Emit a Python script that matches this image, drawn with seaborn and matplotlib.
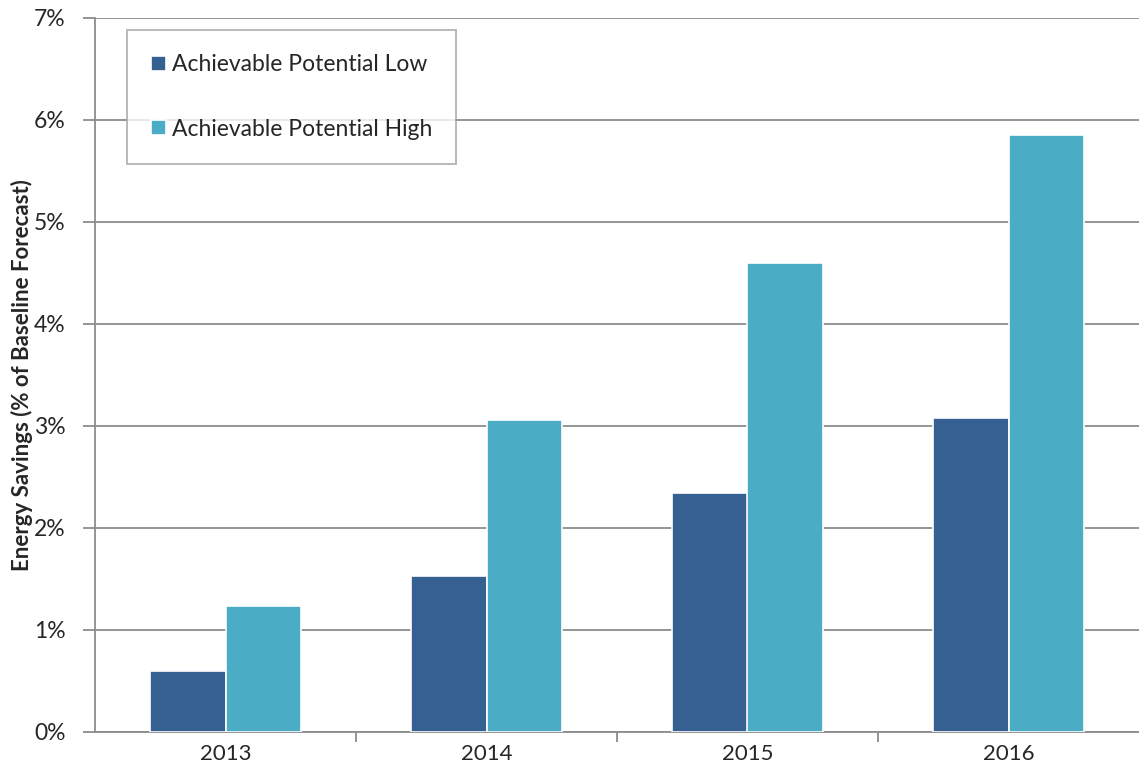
import pandas as pd
import numpy as np
import matplotlib.pyplot as plt
import seaborn as sns

# Values (% of baseline forecast)
years = ["2013", "2014", "2015", "2016"]
low = [0.60, 1.53, 2.34, 3.08]
high = [1.24, 3.06, 4.60, 5.85]
series_names = ["Achievable Potential Low", "Achievable Potential High"]
colors = ["#376092", "#4BACC6"]

df = pd.DataFrame({
    "Year": years * 2,
    "Savings": low + high,
    "Series": [series_names[0]] * 4 + [series_names[1]] * 4,
})

sns.set_style("white")
plt.rcParams["font.family"] = ["Lato", "DejaVu Sans"]

fig = plt.figure(figsize=(11.39, 7.77), dpi=100)
ax = fig.add_axes([95 / 1139, 45 / 777, 1044 / 1139, 714 / 777])

sns.barplot(data=df, x="Year", y="Savings", hue="Series", palette=colors,
            width=0.575, edgecolor="white", linewidth=1.2, saturation=1,
            ax=ax, zorder=3)

ax.set_ylim(0, 7)
ax.set_xlim(-0.5, 3.5)
ax.set_yticks(range(0, 8))
ax.set_yticklabels([f"{i}%" for i in range(0, 8)], fontsize=16.5)
ax.yaxis.grid(True, color="#8c8c8c", linewidth=1.3, zorder=0)
ax.set_axisbelow(True)

# x ticks sit at category boundaries, labels at centers
ax.set_xticks([0.5, 1.5, 2.5], minor=False)
ax.set_xticklabels([])
ax.set_xticks(range(4), minor=True)
ax.set_xticklabels(years, minor=True, fontsize=16)
ax.tick_params(axis="x", which="minor", length=0, pad=9)
ax.tick_params(axis="x", which="major", length=7, color="#8c8c8c", width=1.3, direction="out")
ax.tick_params(axis="y", length=9, color="#8c8c8c", width=1.3, direction="out", pad=12)
ax.tick_params(bottom=True, left=True)

for s in ["top", "right"]:
    ax.spines[s].set_visible(False)
ax.spines["left"].set_color("#8c8c8c")
ax.spines["left"].set_linewidth(1.3)
ax.spines["bottom"].set_color("#8c8c8c")
ax.spines["bottom"].set_linewidth(1.3)

ax.set_xlabel("")
ax.set_ylabel("Energy Savings (% of Baseline Forecast)", fontsize=16, fontweight="bold", labelpad=1)

leg = ax.legend(loc="upper left", bbox_to_anchor=(0.031, 0.983), fontsize=16.5,
                frameon=True, fancybox=False, handlelength=0.65, handleheight=0.65,
                handletextpad=0.25, labelspacing=1.9, borderpad=1.05, borderaxespad=0)
leg.get_frame().set_edgecolor("#a0a0a0")
leg.get_frame().set_linewidth(1.3)

plt.savefig("out.png", dpi=100)
